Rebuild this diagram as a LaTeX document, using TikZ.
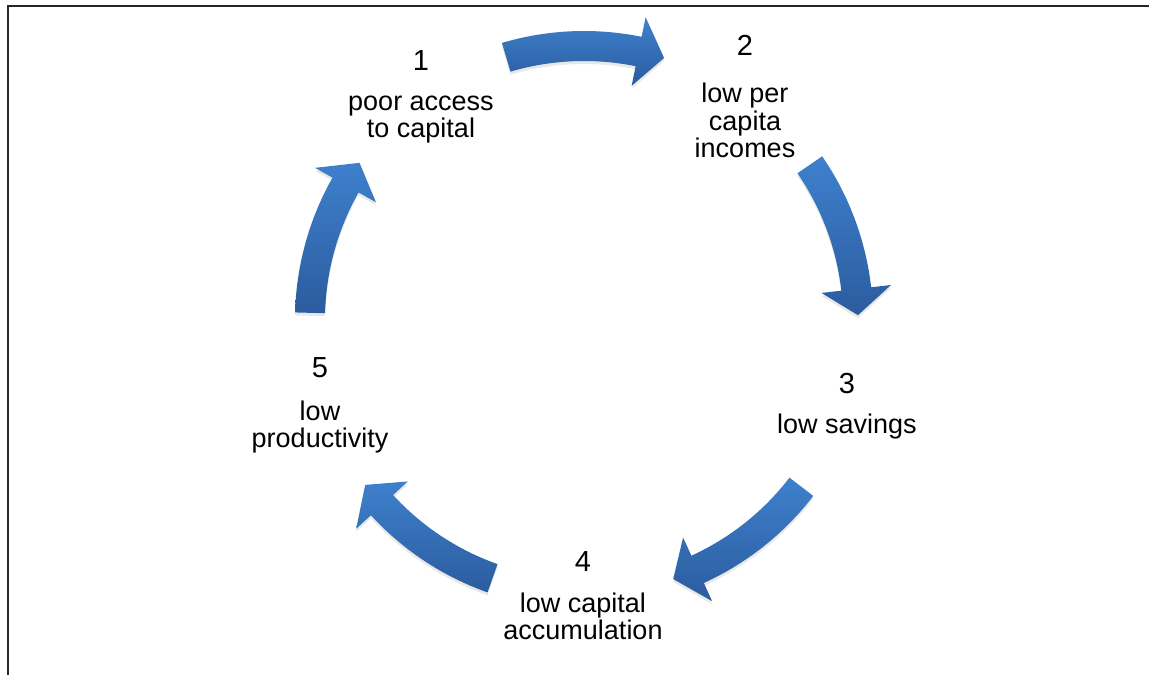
\documentclass[tikz,border=0pt]{standalone}
\usepackage{fontspec}
\setmainfont{Liberation Sans}
\usetikzlibrary{shadows}
\definecolor{cycletop}{RGB}{62,128,205}
\definecolor{cyclebottom}{RGB}{43,92,158}

% curved arrow on the ring, #1 = angle of its middle (runs clockwise)
\newcommand{\ringarrow}[1]{%
  \path[bluearc] ({#1+16.5}:289) arc[start angle={#1+16.5}, end angle={#1-11.5}, radius=289]
    -- ({#1-11.5}:309) -- ({#1-17}:274) -- ({#1-11.5}:239) -- ({#1-11.5}:259)
    arc[start angle={#1-11.5}, end angle={#1+16.5}, radius=259] -- cycle;}

\begin{document}
\begin{tikzpicture}[x=1pt, y=1pt,
    numlabel/.style={font=\fontsize{29}{30}\selectfont, anchor=base, inner sep=0pt},
    steplabel/.style={align=center, font=\fontsize{27}{27.5}\selectfont, anchor=base, inner sep=0pt},
    bluearc/.style={top color=cycletop, bottom color=cyclebottom, draw=none,
      drop shadow={shadow xshift=0pt, shadow yshift=-3pt, opacity=0.18}}]
    \useasboundingbox (0,0) rectangle (1149,675);

    % Frame
    \draw[line width=2.2pt, black!85] (8,0) -- (8,669) -- (1149,669);

    % Arrows
    \begin{scope}[shift={(584,355)}]
        \ringarrow{90}
        \ringarrow{18}
        \ringarrow{-54}
        \ringarrow{-126}
        \ringarrow{162}
    \end{scope}

    % Steps (text nodes sit on the baseline of their last line)
    \node[numlabel] (n1) at (421,604) {1};
    \node[steplabel] (t1) at (421,537) {poor access\\to capital};
    \node[numlabel] (n2) at (745,619) {2};
    \node[steplabel] (t2) at (745,517) {low per\\capita\\incomes};
    \node[numlabel] (n3) at (847,281) {3};
    \node[steplabel] (t3) at (847,241) {low savings};
    \node[numlabel] (n4) at (583,103) {4};
    \node[steplabel] (t4) at (583,35) {low capital\\accumulation};
    \node[numlabel] (n5) at (320,297) {5};
    \node[steplabel] (t5) at (320,227) {low\\productivity};
\end{tikzpicture}
\end{document}
